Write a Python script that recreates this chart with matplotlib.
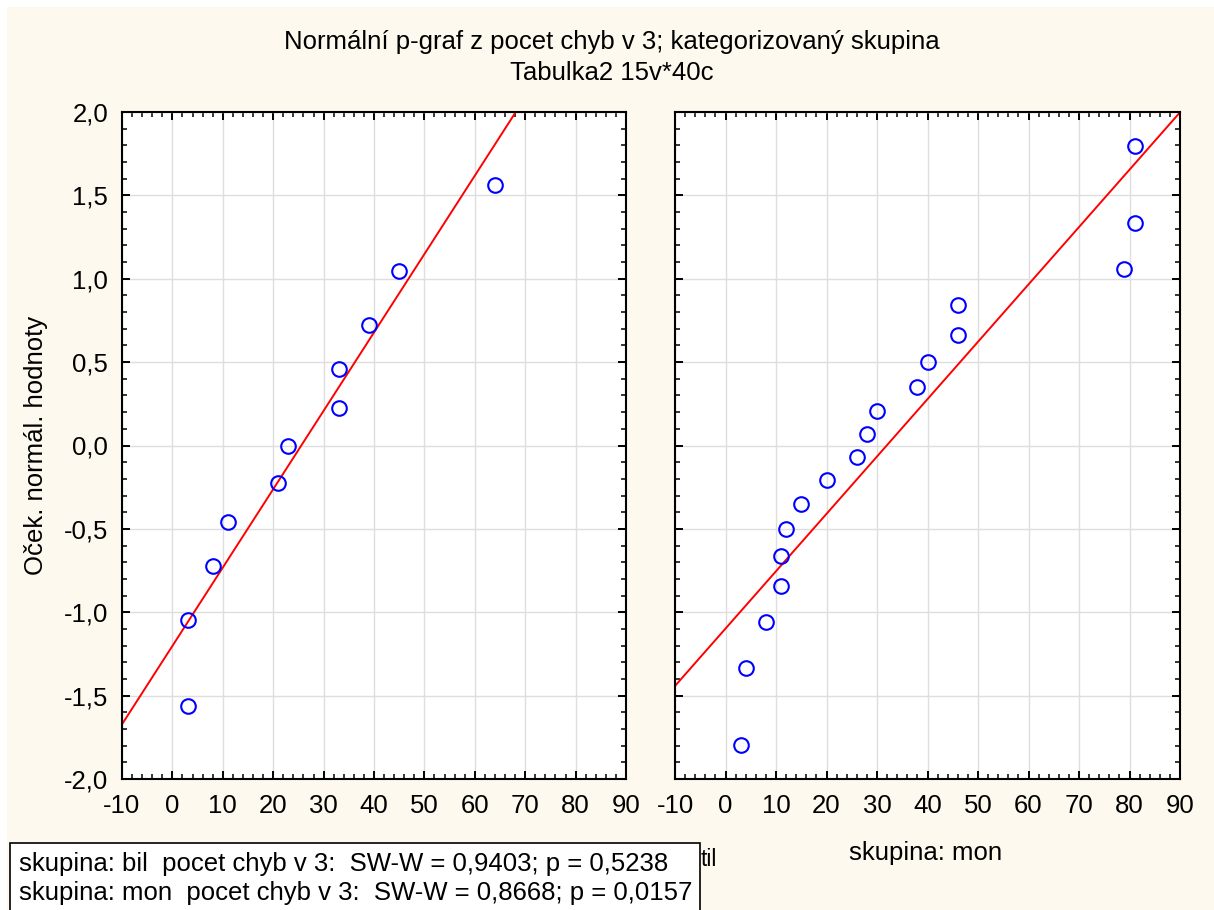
import matplotlib
matplotlib.use("Agg")
import matplotlib.pyplot as plt
from matplotlib.patches import Rectangle
from matplotlib.ticker import MultipleLocator, FuncFormatter
import numpy as np

plt.rcParams['font.family'] = ['Liberation Sans', 'DejaVu Sans']

# observed values and expected normal values per group
bil_x = [3, 3, 8, 11, 21, 23, 33, 33, 39, 45, 64]
bil_y = [-1.565, -1.049, -0.722, -0.457, -0.223, 0.0, 0.223, 0.457, 0.722, 1.049, 1.565]
mon_x = [3, 4, 8, 11, 11, 12, 15, 20, 26, 28, 30, 38, 40, 46, 46, 79, 81, 81]
mon_y = [-1.795, -1.335, -1.056, -0.842, -0.660, -0.498, -0.349, -0.207, -0.068,
         0.068, 0.207, 0.349, 0.498, 0.660, 0.842, 1.056, 1.335, 1.795]

# fitted reference lines (intercept, slope)
bil_line = (-1.202, 0.0470)
mon_line = (-1.098, 0.0344)

title_lines = ["Normální p-graf z pocet chyb v 3; kategorizovaný skupina", "Tabulka2 15v*40c"]
y_label = "Oček. normál. hodnoty"
stats_lines = ["skupina: bil  pocet chyb v 3:  SW-W = 0,9403; p = 0,5238",
               "skupina: mon  pocet chyb v 3:  SW-W = 0,8668; p = 0,0157"]

W, H = 1214, 910
BG = '#FDF9EE'
FS = 18.5
fig = plt.figure(figsize=(W / 100, H / 100), dpi=100, facecolor='white')
fig.patches.append(Rectangle((7 / W, 0), 1, 1 - 7 / H, transform=fig.transFigure,
                             facecolor=BG, edgecolor='none', zorder=-10))

comma = FuncFormatter(lambda v, p: f"{v:.1f}".replace('.', ','))
intfmt = FuncFormatter(lambda v, p: f"{v:.0f}")


def panel(rect, xs, ys, line, show_y):
    ax = fig.add_axes(rect)
    ax.set_facecolor('white')
    ax.set_xlim(-10, 90)
    ax.set_ylim(-2, 2)
    ax.xaxis.set_major_locator(MultipleLocator(10))
    ax.xaxis.set_minor_locator(MultipleLocator(2))
    ax.yaxis.set_major_locator(MultipleLocator(0.5))
    ax.yaxis.set_minor_locator(MultipleLocator(0.1))
    ax.xaxis.set_major_formatter(intfmt)
    ax.yaxis.set_major_formatter(comma)
    ax.grid(True, which='major', color='#DEDEDE', lw=1.0, zorder=0)
    ax.tick_params(which='both', direction='in', top=True, right=True,
                   labelsize=FS, color='black')
    ax.tick_params(axis='x', which='major', pad=11)
    ax.tick_params(axis='y', which='major', pad=10)
    ax.tick_params(which='major', length=6, width=1.4)
    ax.tick_params(which='minor', length=3.5, width=1.1)
    if not show_y:
        ax.tick_params(labelleft=False)
    for s in ax.spines.values():
        s.set_linewidth(1.5)
    xx = np.array([-10, 90])
    ax.plot(xx, line[0] + line[1] * xx, color='red', lw=1.4, zorder=2)
    ax.plot(xs, ys, 'o', mfc='none', mec='blue', ms=10.5, mew=1.5, zorder=3,
            clip_on=False)
    return ax


ax1 = panel([122 / W, 1 - 779 / H, 504 / W, 667 / H], bil_x, bil_y, bil_line, True)
ax2 = panel([675 / W, 1 - 779 / H, 505 / W, 667 / H], mon_x, mon_y, mon_line, False)
ax1.set_ylabel(y_label, fontsize=FS)
ax1.yaxis.set_label_coords((48 - 122) / 504, 0.5)

fig.text(612 / W, 1 - 42 / H, title_lines[0], ha='center', va='center', fontsize=FS)
fig.text(612 / W, 1 - 73 / H, title_lines[1], ha='center', va='center', fontsize=FS)

# group caption under the right panel and the clipped caption tail
fig.text(926 / W, 1 - 853 / H, "skupina: mon", ha='center', va='center', fontsize=FS)
fig.text(701 / W, 1 - 860 / H, "til", ha='left', va='center', fontsize=FS - 2)

# statistics box
fig.patches.append(Rectangle((10 / W, -0.02), 690 / W, (H - 843) / H + 0.02,
                             transform=fig.transFigure, facecolor='white',
                             edgecolor='black', lw=1.2, zorder=5))
fig.text(19 / W, 1 - 864 / H, stats_lines[0], ha='left', va='center', fontsize=FS, zorder=6)
fig.text(19 / W, 1 - 893 / H, stats_lines[1], ha='left', va='center', fontsize=FS, zorder=6)

fig.savefig("out.png", dpi=100, facecolor='white')
